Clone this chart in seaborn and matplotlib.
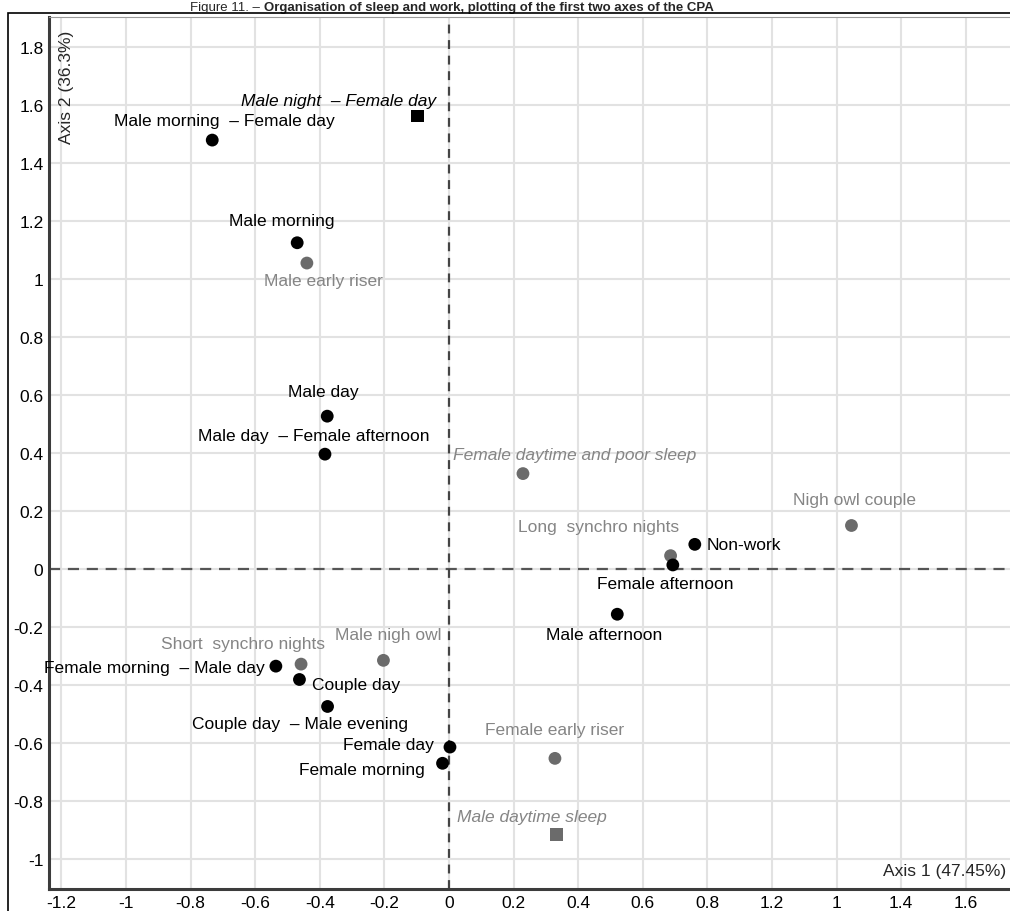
import pandas as pd
import matplotlib
matplotlib.use('Agg')
import matplotlib.pyplot as plt
from matplotlib.patches import Rectangle
import seaborn as sns

# modalities of the CPA (axis 1 / axis 2 coordinates)
labels = [
    'Male night  – Female day', 'Male morning  – Female day', 'Male morning',
    'Male early riser', 'Male day', 'Male day  – Female afternoon',
    'Female daytime and poor sleep', 'Nigh owl couple', 'Long  synchro nights',
    'Non-work', 'Female afternoon', 'Male afternoon', 'Short  synchro nights',
    'Male nigh owl', 'Female morning  – Male day', 'Couple day',
    'Couple day  – Male evening', 'Female day', 'Female morning',
    'Female early riser', 'Male daytime sleep',
]
axis1 = [-0.097, -0.733, -0.47, -0.44, -0.377, -0.384,
         0.229, 1.246, 0.686, 0.761, 0.693, 0.521, -0.458,
         -0.203, -0.536, -0.463, -0.376, 0.003, -0.02,
         0.328, 0.334]
axis2 = [1.562, 1.479, 1.125, 1.055, 0.527, 0.396,
         0.329, 0.15, 0.046, 0.085, 0.014, -0.156, -0.328,
         -0.315, -0.335, -0.381, -0.474, -0.614, -0.67,
         -0.653, -0.915]
group = ['black', 'black', 'black', 'gray', 'black', 'black',
         'gray', 'gray', 'gray', 'black', 'black', 'black', 'gray',
         'gray', 'black', 'black', 'black', 'black', 'black',
         'gray', 'gray']
shape = ['square', 'circle', 'circle', 'circle', 'circle', 'circle',
         'circle', 'circle', 'circle', 'circle', 'circle', 'circle', 'circle',
         'circle', 'circle', 'circle', 'circle', 'circle', 'circle',
         'circle', 'square']
italic = ['Male night  – Female day', 'Female daytime and poor sleep', 'Male daytime sleep']

x_ticks = [-1.2, -1.0, -0.8, -0.6, -0.4, -0.2, 0.0, 0.2, 0.4, 0.6, 0.8, 1.0, 1.2, 1.4, 1.6]
x_ticklabels = ['-1.2', '-1', '-0.8', '-0.6', '-0.4', '-0.2', '0', '0.2', '0.4', '0.6', '0.8', '1.2', '1', '1.4', '1.6']
y_ticks = [-1.0, -0.8, -0.6, -0.4, -0.2, 0.0, 0.2, 0.4, 0.6, 0.8, 1.0, 1.2, 1.4, 1.6, 1.8]
y_ticklabels = ['-1', '-0.8', '-0.6', '-0.4', '-0.2', '0', '0.2', '0.4', '0.6', '0.8', '1', '1.2', '1.4', '1.6', '1.8']

# label placement (alignment, dx, dy in pixels, dy downward)
label_pos = {
    'Male night  – Female day': ('right', 18, -16),
    'Male morning  – Female day': ('center', 12, -20),
    'Male morning': ('center', -15, -22),
    'Male early riser': ('center', 17, 17),
    'Male day': ('center', -4, -25),
    'Male day  – Female afternoon': ('right', 105, -19),
    'Female daytime and poor sleep': ('left', -70, -19),
    'Nigh owl couple': ('left', -58, -26),
    'Long  synchro nights': ('center', -72, -29),
    'Non-work': ('left', 12, 0),
    'Female afternoon': ('center', -8, 19),
    'Male afternoon': ('center', -13, 20),
    'Short  synchro nights': ('center', -58, -21),
    'Male nigh owl': ('center', 5, -26),
    'Female morning  – Male day': ('right', -11, 1),
    'Couple day': ('left', 13, 5),
    'Couple day  – Male evening': ('center', -28, 17),
    'Female day': ('right', -16, -3),
    'Female morning': ('right', -18, 6),
    'Female early riser': ('center', 0, -29),
    'Male daytime sleep': ('center', -25, -18),
}

df = pd.DataFrame({'label': labels, 'x': axis1, 'y': axis2, 'group': group, 'shape': shape})

sns.set_theme(style='white')
plt.rcParams['font.family'] = ['Liberation Sans', 'DejaVu Sans']

W, H = 1010, 912
fig = plt.figure(figsize=(W / 100, H / 100), dpi=100)
ax = fig.add_axes([49 / W, 1 - 890 / H, (W - 49) / W, (890 - 18) / H])

FS = 12.5
ax.set_xlim((49 - 449) / 323, (W - 449) / 323)
ax.set_ylim((570 - 890) / 290, (570 - 18) / 290)
ax.set_xticks(x_ticks)
ax.set_xticklabels(x_ticklabels)
ax.set_yticks(y_ticks)
ax.set_yticklabels(y_ticklabels)
ax.tick_params(length=0, pad=4, labelsize=FS, colors='black')
ax.grid(True, color='#e2e2e2', lw=1.5)
ax.set_axisbelow(True)

for s in ['left', 'bottom']:
    ax.spines[s].set_color('#3c3c3c')
    ax.spines[s].set_linewidth(2.2)
ax.spines['top'].set_color('#9a9a9a')
ax.spines['top'].set_linewidth(0.8)
ax.spines['right'].set_visible(False)

# zero lines
ax.axhline(0, color='#555555', lw=1.6, ls=(0, (5, 3.5)), zorder=1)
ax.axvline(0, color='#444444', lw=1.6, ls=(0, (4, 3)), zorder=1)

sns.scatterplot(data=df, x='x', y='y', hue='group', style='shape',
                palette={'black': '#000000', 'gray': '#6b6b6b'},
                markers={'circle': 'o', 'square': 's'},
                s=85, edgecolor='none', legend=False, ax=ax, zorder=3)
ax.set_xlabel('')
ax.set_ylabel('')

for lab, xv, yv, g in zip(labels, axis1, axis2, group):
    ha, dx, dy = label_pos[lab]
    ax.annotate(lab, (xv, yv), xytext=(dx, -dy), textcoords='offset pixels',
                ha=ha, va='center', fontsize=FS,
                color='black' if g == 'black' else '#858585',
                style='italic' if lab in italic else 'normal', zorder=4)

ax.text((1006 - 49) / (W - 49), (890 - 872) / 872, 'Axis 1 (47.45%)',
        transform=ax.transAxes, ha='right', va='center', fontsize=FS)
ax.text((66 - 49) / (W - 49), (890 - 87) / 872, 'Axis 2 (36.3%)',
        transform=ax.transAxes, ha='center', va='center', rotation=90, fontsize=FS)

# outer frame
fig.patches.append(Rectangle((8 / W, -0.02), 1.05, 1 - 14 / H + 0.02, transform=fig.transFigure,
                             fill=False, ec='black', lw=1.2))

# caption: plain figure number, then bold title
t1 = fig.text(190 / W, 1 - 10.5 / H, 'Figure 11. \u2013 ', ha='left', va='baseline', fontsize=9.5)
fig.text(0, 0, '')
ax.annotate('Organisation of sleep and work, plotting of the first two axes of the CPA',
            xy=(1, 0), xycoords=t1, ha='left', va='bottom', fontsize=9.5,
            fontweight='bold', annotation_clip=False)

fig.savefig('out.png', dpi=100)
